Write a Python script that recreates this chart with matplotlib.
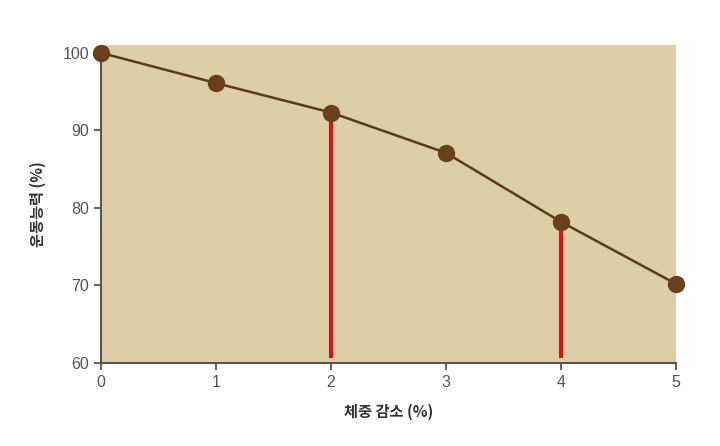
import numpy as np
import matplotlib.pyplot as plt

plt.rcParams['font.family'] = ['Noto Sans CJK KR', 'DejaVu Sans']

# 체중 감소 (%) 와 운동능력 (%)
weight_loss = [0, 1, 2, 3, 4, 5]
performance = [100, 96.1, 92.3, 87.1, 78.2, 70.2]
# 빨간 선으로 표시된 지점
marked = [2, 4]

fig = plt.figure(figsize=(7.2, 4.46), dpi=100)
ax = fig.add_axes([0.140, 0.186, 0.799, 0.713])
ax.set_facecolor('#dccfa8')

for xm in marked:
    ym = performance[weight_loss.index(xm)]
    ax.plot([xm, xm], [60.6, ym], color='#e01010', lw=3, solid_capstyle='butt', zorder=2)

ax.plot(weight_loss, performance, '-', color='#5a3a1e', lw=1.8, zorder=3)
ax.plot(weight_loss, performance, 'o', color='#6b3f1c', ms=11.5, zorder=4, clip_on=False)

ax.set_xlim(0, 5)
ax.set_ylim(60, 101)
ax.set_xticks(range(0, 6))
ax.set_yticks([60, 70, 80, 90, 100])

for s in ['top', 'right']:
    ax.spines[s].set_visible(False)
for s in ['left', 'bottom']:
    ax.spines[s].set_color('#555555')
    ax.spines[s].set_linewidth(1.5)
ax.spines['left'].set_bounds(60, 100)

ax.tick_params(direction='out', length=5, width=1.3, color='#555555',
               labelcolor='#555555', labelsize=11.5)
for lab in ax.get_xticklabels() + ax.get_yticklabels():
    lab.set_family('Liberation Sans')

ax.set_xlabel('체중 감소 (%)', fontsize=11, fontweight='bold', color='#333333', labelpad=10)
ax.set_ylabel('운동능력 (%)', fontsize=11, fontweight='bold', color='#333333', labelpad=12)

plt.savefig('out.png', dpi=100)
